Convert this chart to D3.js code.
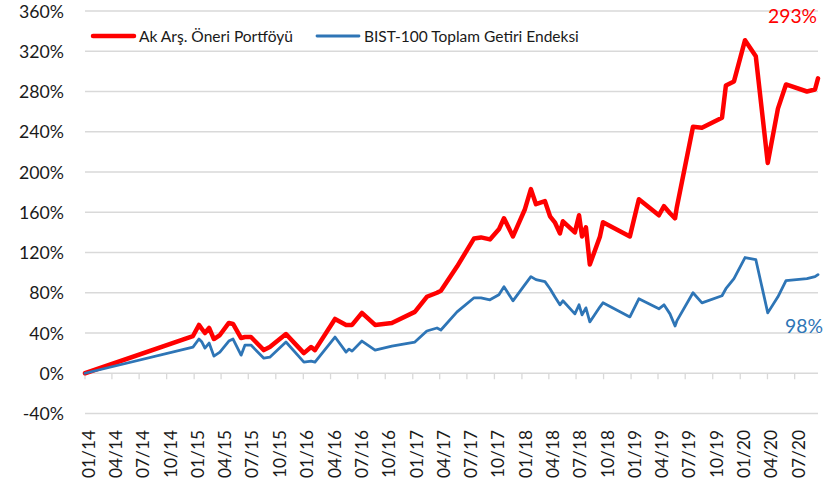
<!DOCTYPE html>
<html>
<head>
<meta charset="utf-8">
<script src="https://cdn.jsdelivr.net/npm/d3@7/dist/d3.min.js"></script>
<style>
  html, body { margin: 0; padding: 0; background: #fff; }
  svg { display: block; }
  text { font-family: Lato, "Noto Sans", sans-serif; fill: #1a1a1a; }
</style>
</head>
<body>
<svg id="chart" width="839" height="485"></svg>
<script>
// ---- Data ----
const dates = [
  "2014-01-01","2014-12-28","2015-01-17","2015-01-27","2015-02-06","2015-02-20","2015-03-08","2015-03-28",
  "2015-04-27","2015-05-11","2015-06-07","2015-06-20","2015-07-10","2015-08-22","2015-09-11","2015-11-04",
  "2016-01-03","2016-01-27","2016-02-09","2016-04-16","2016-05-23","2016-06-02","2016-06-12","2016-07-15",
  "2016-08-28","2016-10-23","2017-01-08","2017-02-17","2017-03-23","2017-04-05","2017-05-29","2017-07-25",
  "2017-08-17","2017-09-16","2017-10-16","2017-11-02","2017-12-02","2018-01-11","2018-01-31","2018-02-17",
  "2018-03-19","2018-04-05","2018-04-21","2018-05-08","2018-05-18","2018-06-27","2018-07-11","2018-07-21",
  "2018-08-03","2018-08-16","2018-09-19","2018-09-29","2018-12-28","2019-01-27","2019-04-04","2019-04-21",
  "2019-05-11","2019-05-28","2019-06-03","2019-07-27","2019-08-26","2019-11-01","2019-11-14","2019-12-11",
  "2020-01-17","2020-02-22","2020-04-02","2020-05-06","2020-06-02","2020-08-11","2020-09-07","2020-09-17"
];
const portfolio = [
  0,37,48,44,40,45,34,38,
  50,49,35,36,36,23,26,39,
  20,26,23,54,48,48,48,60,
  48,50,61,76,80,82,106,134,
  135,133,143,154,136,163,183,168,
  171,156,150,139,151,140,157,136,
  145,108,136,150,136,173,157,166,
  159,154,165,245,244,254,286,290,
  331,315,209,263,287,280,282,293
];
const bist = [
  0,26,34,31,25,30,17,21,
  32,34,18,28,28,15,16,31,
  11,12,11,36,21,24,22,32,
  23,27,31,42,45,43,61,75,
  75,73,78,86,72,88,96,93,
  91,84,76,68,72,59,68,58,
  65,51,66,70,56,74,64,68,
  59,47,52,80,70,77,84,94,
  115,113,60,76,92,94,96,98
];
const seriesNames = ["Ak Arş. Öneri Portföyü", "BIST-100 Toplam Getiri Endeksi"];
const seriesColors = ["#ff0000", "#2e75b6"];
const yTicks = [-40, 0, 40, 80, 120, 160, 200, 240, 280, 320, 360];
const xTickLabels = ["01/14","04/14","07/14","10/14","01/15","04/15","07/15","10/15","01/16","04/16",
  "07/16","10/16","01/17","04/17","07/17","10/17","01/18","04/18","07/18","10/18","01/19","04/19",
  "07/19","10/19","01/20","04/20","07/20"];
const endLabels = ["293%", "98%"];

// ---- Setup ----
const svg = d3.select("#chart");
const parse = d3.timeParse("%Y-%m-%d");
const parseTick = d3.timeParse("%m/%y");
const pts = dates.map((d, i) => ({ date: parse(d), p: portfolio[i], b: bist[i] }));

const x = d3.scaleTime()
  .domain([parse("2014-01-01"), parse("2020-09-17")])
  .range([85, 818]);
const y = d3.scaleLinear().domain([-40, 360]).range([413.5, 11]);

function fit(sel, target) {
  const n = sel.node();
  const w = n.getComputedTextLength();
  const fs = parseFloat(sel.attr("font-size"));
  sel.attr("font-size", (fs * target / w).toFixed(2));
  return fs * target / w;
}

// gridlines
svg.append("g").selectAll("line").data(yTicks).join("line")
  .attr("x1", 85).attr("x2", 818)
  .attr("y1", d => y(d)).attr("y2", d => y(d))
  .attr("stroke", "#d9d9d9").attr("stroke-width", 1.3);

// y labels
const yLab = svg.append("g").selectAll("text").data(yTicks).join("text")
  .attr("x", 64).attr("y", d => y(d))
  .attr("text-anchor", "end").attr("dominant-baseline", "central")
  .attr("font-size", 18)
  .text(d => d + "%");
const probeY = yLab.filter(d => d === 360);
const fsY = fit(probeY, 45);
yLab.attr("font-size", fsY.toFixed(2));

// x axis ticks at 0%
const tickDates = xTickLabels.map(t => parseTick(t));
svg.append("g").selectAll("line").data(tickDates).join("line")
  .attr("x1", d => x(d)).attr("x2", d => x(d))
  .attr("y1", y(0)).attr("y2", y(0) + 6)
  .attr("stroke", "#d9d9d9").attr("stroke-width", 1.3);

// x labels
const xLab = svg.append("g").selectAll("text").data(xTickLabels).join("text")
  .attr("transform", t => `translate(${x(parseTick(t)) + 3.5},430) rotate(-90)`)
  .attr("text-anchor", "end").attr("dominant-baseline", "central")
  .attr("font-size", 18)
  .text(t => t);
const fsX = fit(xLab.filter((d, i) => i === 0), 48);
xLab.attr("font-size", fsX.toFixed(2));

// lines
const lineP = d3.line().x(d => x(d.date)).y(d => y(d.p));
const lineB = d3.line().x(d => x(d.date)).y(d => y(d.b));
svg.append("path").datum(pts).attr("d", lineP)
  .attr("fill", "none").attr("stroke", seriesColors[0]).attr("stroke-width", 4.5)
  .attr("stroke-linejoin", "round").attr("stroke-linecap", "round");
svg.append("path").datum(pts).attr("d", lineB)
  .attr("fill", "none").attr("stroke", seriesColors[1]).attr("stroke-width", 2.8)
  .attr("stroke-linejoin", "round").attr("stroke-linecap", "round");

// legend
const leg = svg.append("g");
leg.append("line").attr("x1", 93).attr("x2", 134).attr("y1", 36).attr("y2", 36)
  .attr("stroke", seriesColors[0]).attr("stroke-width", 4.5).attr("stroke-linecap", "round");
const t1 = leg.append("text").attr("x", 139).attr("y", 36).attr("dominant-baseline", "central")
  .attr("font-size", 17).text(seriesNames[0]);
fit(t1, 154);
leg.append("line").attr("x1", 317).attr("x2", 359).attr("y1", 36).attr("y2", 36)
  .attr("stroke", seriesColors[1]).attr("stroke-width", 2.8).attr("stroke-linecap", "round");
const t2 = leg.append("text").attr("x", 364).attr("y", 36).attr("dominant-baseline", "central")
  .attr("font-size", 17).text(seriesNames[1]);
fit(t2, 215);

// end labels
const last = pts[pts.length - 1];
const e1 = svg.append("text").attr("x", 817).attr("y", 23).attr("text-anchor", "end")
  .attr("font-size", 20).style("fill", seriesColors[0]).text(endLabels[0]);
fit(e1, 49);
const e2 = svg.append("text").attr("x", 823).attr("y", 333).attr("text-anchor", "end")
  .attr("font-size", 20).style("fill", seriesColors[1]).text(endLabels[1]);
fit(e2, 38);
</script>
</body>
</html>
